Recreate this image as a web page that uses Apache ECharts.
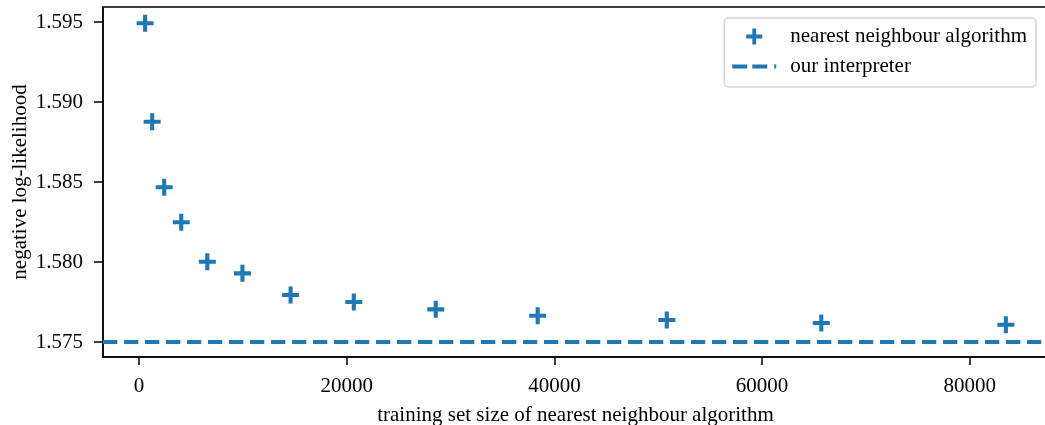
<!DOCTYPE html>
<html>
<head>
<meta charset="utf-8">
<script src="https://cdn.jsdelivr.net/npm/echarts@6/dist/echarts.min.js"></script>
<style>
  html, body { margin: 0; padding: 0; background: #fff; }
  #main { width: 1045px; height: 425px; }
</style>
</head>
<body>
<div id="main"></div>
<script>
// training set sizes (x) and negative log-likelihood (y)
var sizes = [580, 1256, 2415, 4058, 6570, 9952, 14589, 20676, 28570, 38386, 50821, 65700, 83478];
var nll = [1.59492, 1.58877, 1.58467, 1.58248, 1.58002, 1.57929, 1.57794, 1.5775, 1.57704, 1.57664, 1.57638, 1.57619, 1.57608];
var interpreterNll = 1.575;
var xTicks = [0, 20000, 40000, 60000, 80000];
var yTicks = [1.575, 1.580, 1.585, 1.590, 1.595];

var xMin = -3478, xMax = 87536;
var yMin = 1.5740625, yMax = 1.5959375;

var blue = '#1f77b4';
var font = 'Liberation Serif';
var plus = 'path://M-1.2,-5 L1.2,-5 L1.2,-1.2 L5,-1.2 L5,1.2 L1.2,1.2 L1.2,5 L-1.2,5 L-1.2,1.2 L-5,1.2 L-5,-1.2 L-1.2,-1.2 Z';
var dashes = 'path://M0,0 H15 V3.8 H0 Z M20,0 H35 V3.8 H20 Z M42,0 H44 V3.8 H42 Z';

var myChart = echarts.init(document.getElementById('main'));

var option = {
    animation: false,
    textStyle: { fontFamily: font },
    grid: {
        left: 103, top: 7, right: -3, bottom: 68,
        outerBoundsMode: 'none',
        containLabel: false,
        show: true, borderColor: '#000', borderWidth: 1.5, backgroundColor: 'transparent'
    },
    legend: {
        right: 9, top: 18,
        orient: 'vertical',
        padding: [8, 9, 10, 8],
        itemGap: 9,
        itemWidth: 44, itemHeight: 16,
        borderColor: '#d6d6d6', borderWidth: 1.5, borderRadius: 4,
        backgroundColor: '#fff',
        textStyle: { fontFamily: font, fontSize: 21, lineHeight: 21, color: '#000', padding: [0, 0, 0, 9] },
        data: [
            { name: 'nearest neighbour algorithm', icon: plus, itemStyle: { color: blue, opacity: 1 } },
            { name: 'our interpreter', icon: dashes, itemStyle: { color: blue } }
        ]
    },
    xAxis: {
        type: 'value',
        min: xMin, max: xMax,
        name: 'training set size of nearest neighbour algorithm',
        nameLocation: 'middle', nameGap: 48,
        nameMoveOverlap: false,
        nameTextStyle: { fontFamily: font, fontSize: 21, color: '#000' },
        splitLine: { show: false },
        axisLine: { show: true, onZero: false, lineStyle: { color: '#000', width: 1.5 } },
        axisTick: { show: true, length: 8, lineStyle: { color: '#000', width: 1.5 }, customValues: xTicks },
        axisLabel: {
            fontFamily: font, fontSize: 21, color: '#000', margin: 19, customValues: xTicks,
            formatter: function (v) { return String(v); }
        }
    },
    yAxis: {
        type: 'value',
        min: yMin, max: yMax,
        name: 'negative log-likelihood',
        nameLocation: 'middle', nameGap: 72, nameRotate: 90,
        nameMoveOverlap: false,
        nameTextStyle: { fontFamily: font, fontSize: 21, color: '#000' },
        splitLine: { show: false },
        axisLine: { show: true, onZero: false, lineStyle: { color: '#000', width: 1.5 } },
        axisTick: { show: true, length: 9, lineStyle: { color: '#000', width: 1.5 }, customValues: yTicks },
        axisLabel: {
            fontFamily: font, fontSize: 21, color: '#000', margin: 20, customValues: yTicks,
            formatter: function (v) { return v.toFixed(3); }
        }
    },
    series: [
        {
            name: 'nearest neighbour algorithm',
            type: 'scatter',
            symbol: plus,
            symbolSize: 17,
            itemStyle: { color: blue, opacity: 1 },
            data: sizes.map(function (s, i) { return [s, nll[i]]; }),
            z: 3
        },
        {
            name: 'our interpreter',
            type: 'line',
            symbol: 'none',
            color: blue,
            lineStyle: { color: blue, width: 3.8, type: [14.3, 6.7] },
            data: [[xMin, interpreterNll], [xMax, interpreterNll]],
            z: 2
        }
    ]
};

myChart.setOption(option);
</script>
</body>
</html>
